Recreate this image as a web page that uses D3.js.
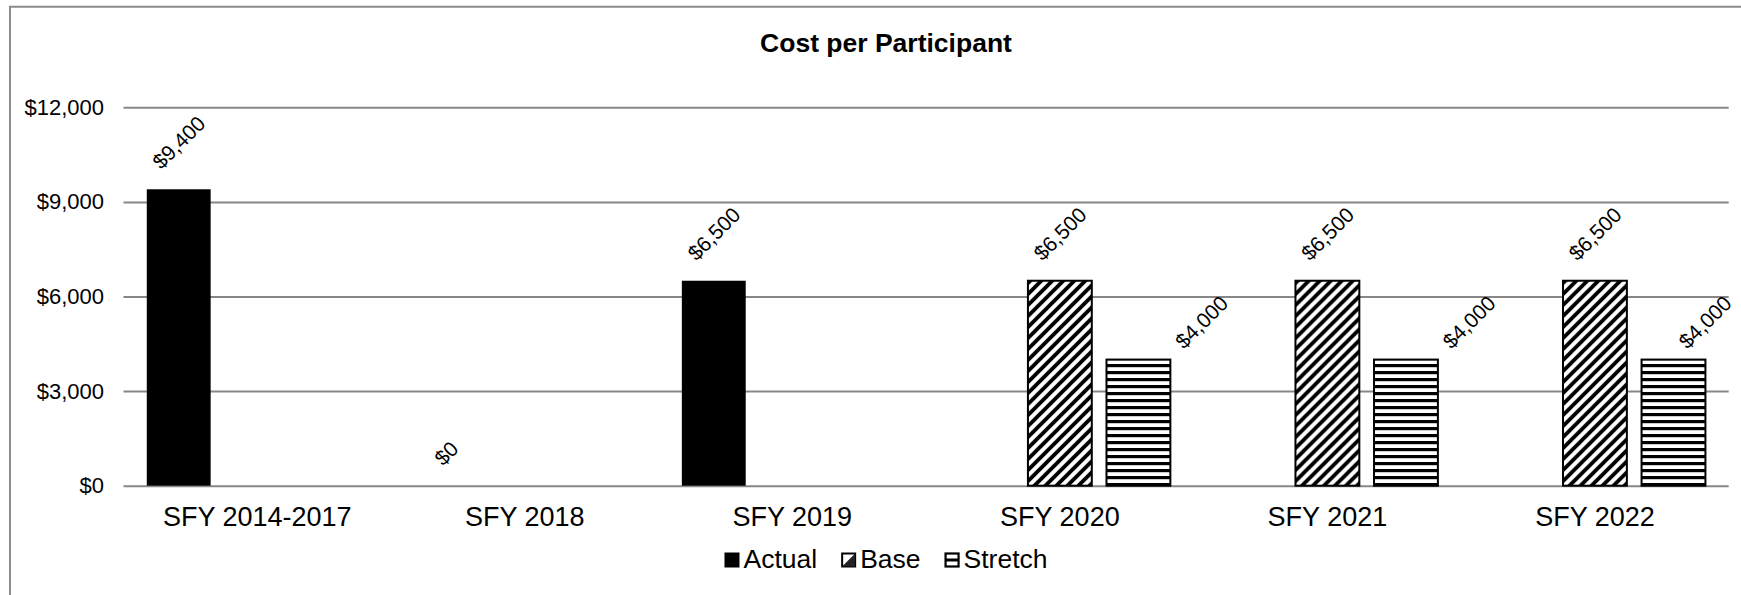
<!DOCTYPE html>
<html>
<head>
<meta charset="utf-8">
<script src="https://cdn.jsdelivr.net/npm/d3@7"></script>
<style>
  html, body { margin: 0; padding: 0; background: #fff; }
  svg { display: block; font-family: "Liberation Sans", Arial, sans-serif; }
</style>
</head>
<body>
<svg id="chart" width="1741" height="595"></svg>
<script>
// ---- data ----
const categories = ["SFY 2014-2017", "SFY 2018", "SFY 2019", "SFY 2020", "SFY 2021", "SFY 2022"];
const seriesNames = ["Actual", "Base", "Stretch"];
const actualValues  = [9400, 0, 6500, null, null, null];
const baseValues    = [null, null, null, 6500, 6500, 6500];
const stretchValues = [null, null, null, 4000, 4000, 4000];
const yTickValues = [0, 3000, 6000, 9000, 12000];
const chartTitle = "Cost per Participant";

// ---- layout ----
const W = 1741, H = 595;
const plot = { left: 123.5, right: 1728.7, top: 107.3, bottom: 485.7 };
const chartCenterX = 886;
const gridColor = "#878787";
const fmt = v => "$" + d3.format(",")(v);

const svg = d3.select("#chart");

// patterns for the planned series
const defs = svg.append("defs");
const diag = defs.append("pattern")
  .attr("id", "pat-base").attr("patternUnits", "userSpaceOnUse")
  .attr("width", 11).attr("height", 11);
diag.append("rect").attr("width", 11).attr("height", 11).attr("fill", "#fff");
diag.append("path")
  .attr("d", "M-5.5,5.5 L5.5,-5.5 M0,11 L11,0 M5.5,16.5 L16.5,5.5")
  .attr("stroke", "#000").attr("stroke-width", 3.8);

const horiz = defs.append("pattern")
  .attr("id", "pat-stretch").attr("patternUnits", "userSpaceOnUse")
  .attr("width", 8).attr("height", 7);
horiz.append("rect").attr("width", 8).attr("height", 7).attr("fill", "#fff");
horiz.append("rect").attr("y", 0).attr("width", 8).attr("height", 3.2).attr("fill", "#000");

const fills = { Actual: "#000", Base: "url(#pat-base)", Stretch: "url(#pat-stretch)" };

// chart border (left and top edges fall inside the view)
svg.append("path")
  .attr("d", `M10,${H + 5} V6.7 H${W + 5}`)
  .attr("fill", "none").attr("stroke", "#8c8c8c").attr("stroke-width", 2);

// ---- scales ----
const x0 = d3.scaleBand().domain(categories).range([plot.left, plot.right]).padding(0);
const outer = x0.bandwidth() * 0.087;
const x1 = d3.scaleBand().domain(seriesNames)
  .range([outer, x0.bandwidth() - outer]).paddingInner(0.187).paddingOuter(0);
const y = d3.scaleLinear().domain([0, 12000]).range([plot.bottom, plot.top]);

// ---- y axis with gridlines ----
const yAxis = svg.append("g")
  .attr("transform", `translate(${plot.left},0)`)
  .call(d3.axisLeft(y).tickValues(yTickValues).tickFormat(fmt)
    .tickSize(-(plot.right - plot.left)).tickPadding(19.5));
yAxis.select(".domain").remove();
yAxis.selectAll(".tick line").attr("stroke", gridColor).attr("stroke-width", 2);
yAxis.selectAll(".tick text")
  .attr("fill", "#000").style("font-size", "22px")
  .style("font-family", "'Liberation Sans', Arial, sans-serif");

// ---- x axis labels ----
const xAxis = svg.append("g")
  .attr("transform", `translate(0,${plot.bottom})`)
  .call(d3.axisBottom(x0).tickSize(0).tickPadding(0));
xAxis.select(".domain").remove();
xAxis.selectAll(".tick text")
  .attr("y", 40.5).attr("dy", null)
  .attr("fill", "#000").style("font-size", "27px")
  .style("font-family", "'Liberation Sans', Arial, sans-serif");

// ---- bars ----
const rows = categories.map((c, i) => ({
  category: c,
  values: [
    { series: "Actual",  value: actualValues[i] },
    { series: "Base",    value: baseValues[i] },
    { series: "Stretch", value: stretchValues[i] }
  ].filter(d => d.value !== null)
}));

const groups = svg.append("g").selectAll("g")
  .data(rows).join("g")
  .attr("transform", d => `translate(${x0(d.category)},0)`);

groups.selectAll("rect")
  .data(d => d.values.filter(v => v.value > 0))
  .join("rect")
  .attr("x", d => x1(d.series))
  .attr("y", d => y(d.value))
  .attr("width", x1.bandwidth())
  .attr("height", d => y(0) - y(d.value))
  .attr("fill", d => fills[d.series])
  .attr("stroke", "#000")
  .attr("stroke-width", d => d.series === "Actual" ? 0 : 2);

// ---- rotated value labels ----
const labelSize = 21;
const labelLayer = svg.append("g");
rows.forEach(row => {
  row.values.forEach(d => {
    const t = labelLayer.append("text")
      .text(fmt(d.value))
      .attr("text-anchor", "middle")
      .attr("dy", "0.36em")
      .style("font-size", labelSize + "px")
      .attr("fill", "#000");
    const len = t.node().getComputedTextLength();
    const half = (len + 0.716 * labelSize) / (2 * Math.SQRT2);
    const left = x0(row.category) + x1(d.series);
    const top = y(d.value);
    let cx, cy;
    if (d.series === "Stretch") {
      cx = Math.min(left + x1.bandwidth() + 3 + half, W - 8 - half);
      cy = top - 9.5 - half;
    } else {
      cx = left + x1.bandwidth() / 2;
      cy = top - 19 - half;
    }
    t.attr("transform", `translate(${cx},${cy}) rotate(-45)`);
  });
});

// ---- title ----
svg.append("text")
  .attr("x", chartCenterX).attr("y", 52.3)
  .attr("text-anchor", "middle")
  .style("font-size", "26.5px").style("font-weight", "bold")
  .text(chartTitle);

// ---- legend ----
const legendSize = 26.5, sw = 15, swGap = 4, itemGap = 24, legendBaseline = 568;
const legend = svg.append("g");
const items = legend.selectAll("g").data(seriesNames).join("g");
items.append("text")
  .attr("x", sw + swGap).attr("y", legendBaseline)
  .style("font-size", legendSize + "px")
  .text(d => d);
const widths = [];
items.each(function () {
  widths.push(sw + swGap + d3.select(this).select("text").node().getComputedTextLength());
});
const total = d3.sum(widths) + itemGap * (widths.length - 1);
let cursor = chartCenterX - total / 2;
items.attr("transform", (d, i) => {
  const tx = cursor;
  cursor += widths[i] + itemGap;
  return `translate(${tx},0)`;
});
const swTop = legendBaseline - 15.5;
items.each(function (d) {
  const g = d3.select(this);
  if (d === "Actual") {
    g.append("rect").attr("x", 0).attr("y", swTop).attr("width", sw).attr("height", sw).attr("fill", "#000");
  } else if (d === "Base") {
    g.append("rect").attr("x", 1).attr("y", swTop + 1).attr("width", sw - 2).attr("height", sw - 2)
      .attr("fill", "#fff").attr("stroke", "#000").attr("stroke-width", 2);
    g.append("path")
      .attr("d", `M1,${swTop + sw - 1} L${sw - 1},${swTop + 1} L${sw - 1},${swTop + sw - 1} Z`)
      .attr("fill", "#222");
  } else {
    g.append("rect").attr("x", 1).attr("y", swTop + 1).attr("width", sw - 2).attr("height", sw - 2)
      .attr("fill", "#fff").attr("stroke", "#000").attr("stroke-width", 2.2);
    g.append("rect").attr("x", 1).attr("y", swTop + sw / 2 - 1.5).attr("width", sw - 2).attr("height", 3)
      .attr("fill", "#000");
  }
});
</script>
</body>
</html>
